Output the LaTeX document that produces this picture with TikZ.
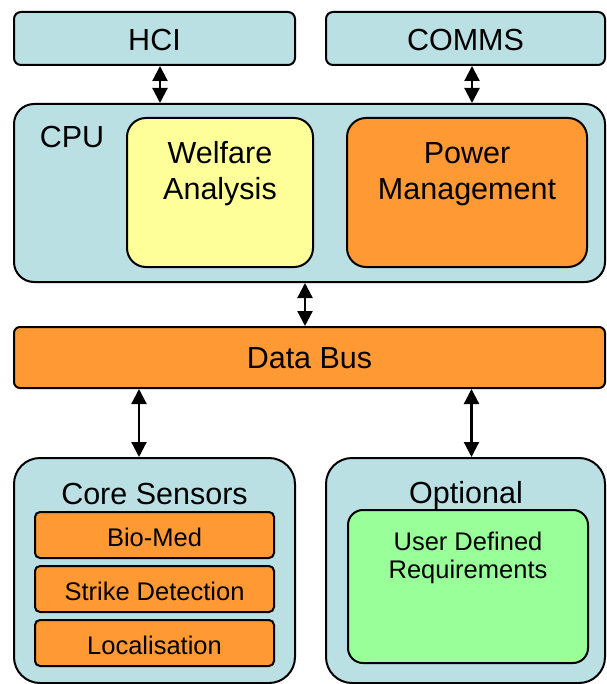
\documentclass[tikz,border=0pt]{standalone}
\usepackage{fontspec}
\setmainfont{Liberation Sans}
\usetikzlibrary{arrows.meta}
\definecolor{sysBlue}{HTML}{BBE0E3}
\definecolor{sysOrange}{HTML}{FF9933}
\definecolor{sysYellow}{HTML}{FFFF99}
\definecolor{sysGreen}{HTML}{99FF99}
\newcommand{\bigtext}{\fontsize{30.5}{36}\selectfont}
\newcommand{\smalltext}{\fontsize{25.5}{27.5}\selectfont}
\tikzstyle{unit}=[draw=black, line width=2pt, inner sep=0pt]
\tikzstyle{outer}=[unit, fill=sysBlue]
\tikzstyle{sensor}=[unit, fill=sysOrange, rounded corners=5pt, minimum width=239pt, minimum height=46pt, font=\smalltext, text height=22pt, text depth=0pt]
\tikzstyle{heading}=[inner sep=0pt, font=\bigtext, align=center]
\tikzstyle{link}=[{Triangle[length=15pt,width=15pt]}-{Triangle[length=15pt,width=15pt]}, line width=2.2pt]

\begin{document}
\begin{tikzpicture}[x=1pt, y=-1pt]
	\useasboundingbox (0,0) rectangle (606,684);

	% Top row
	\node[outer, rounded corners=7pt, minimum width=281pt, minimum height=53pt, font=\bigtext, text height=24pt, text depth=0pt] (hci) at (154.5, 38.5) {HCI};
	\node[outer, rounded corners=7pt, minimum width=279pt, minimum height=53pt, font=\bigtext, text height=24pt, text depth=0pt] (comms) at (465.5, 38.5) {COMMS};

	% Processor
	\node[outer, rounded corners=20pt, minimum width=591pt, minimum height=178pt] (cpu) at (309.5, 193) {};
	\node[heading] (cputext) at (72, 137) {CPU};
	\node[unit, fill=sysYellow, rounded corners=19pt, minimum width=186pt, minimum height=149pt] (welfare) at (220, 192.5) {};
	\node[unit, fill=sysOrange, rounded corners=19pt, minimum width=240pt, minimum height=149pt] (power) at (467, 192.5) {};
	\node[heading] (welfaretext) at (220, 174) {Welfare\\Analysis};
	\node[heading] (powertext) at (467, 174) {Power\\Management};

	% Bus
	\node[unit, fill=sysOrange, rounded corners=6pt, minimum width=591pt, minimum height=61pt, font=\bigtext, text height=22pt, text depth=0pt] (bus) at (309.5, 357.5) {Data Bus};

	% Sensors
	\node[outer, rounded corners=26pt, minimum width=281pt, minimum height=225pt] (core) at (154.5, 570.5) {};
	\node[heading] (coretext) at (154.5, 494) {Core Sensors};
	\node[sensor] (biomed) at (154.5, 535) {Bio-Med};
	\node[sensor] (strike) at (154.5, 589) {Strike Detection};
	\node[sensor] (local) at (154.5, 643) {Localisation};

	\node[outer, rounded corners=26pt, minimum width=279pt, minimum height=225pt] (optional) at (465.5, 570.5) {};
	\node[heading] (optionaltext) at (466, 496) {Optional};
	\node[unit, fill=sysGreen, rounded corners=15pt, minimum width=240pt, minimum height=153pt] (userdef) at (468, 586.5) {};
	\node[heading, font=\smalltext] (userdeftext) at (468, 558) {User Defined\\Requirements};

	% Links
	\draw[link] ([xshift=5.5pt]hci.south) -- ([xshift=5.5pt]hci.south |- cpu.north);
	\draw[link] ([xshift=6.5pt]comms.south) -- ([xshift=6.5pt]comms.south |- cpu.north);
	\draw[link] ([xshift=-4.5pt]cpu.south) -- ([xshift=-4.5pt]cpu.south |- bus.north);
	\draw[link] ([xshift=-15.5pt]bus.south -| core.north) -- ([xshift=-15.5pt]core.north);
	\draw[link] ([xshift=6pt]bus.south -| optional.north) -- ([xshift=6pt]optional.north);
\end{tikzpicture}
\end{document}
